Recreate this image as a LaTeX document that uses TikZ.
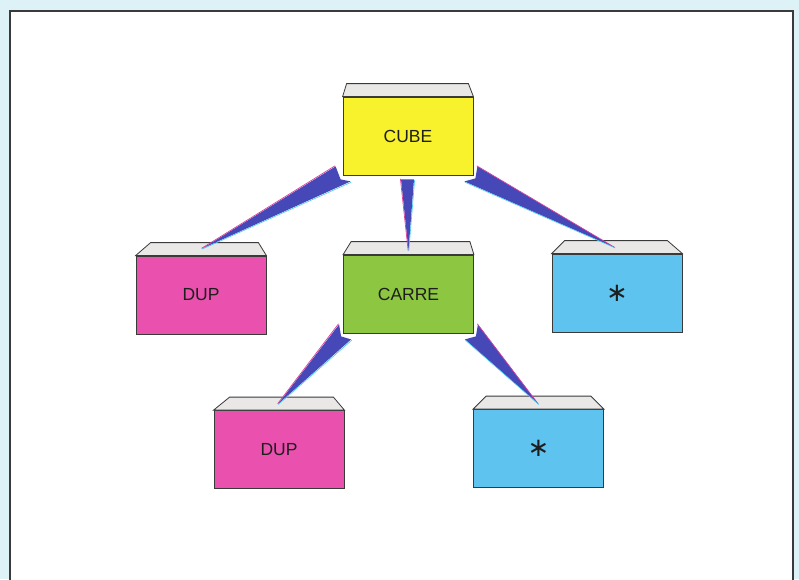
\documentclass[tikz,border=0pt]{standalone}
\usepackage{fontspec}
\setmainfont{Liberation Sans}
\newfontfamily\astfont{DejaVu Sans}
\usetikzlibrary{calc}
\definecolor{bgc}{HTML}{DCF2F7}
\definecolor{edgec}{HTML}{3A3A3A}
\definecolor{lidc}{HTML}{E9E8E6}
\definecolor{yel}{HTML}{F7F22C}
\definecolor{pnk}{HTML}{EA50AE}
\definecolor{grn}{HTML}{8DC641}
\definecolor{sky}{HTML}{5EC3EF}
\definecolor{wedgec}{HTML}{4548B6}
\definecolor{magc}{HTML}{D8409E}
\definecolor{cyac}{HTML}{40C8F0}
\definecolor{txtc}{HTML}{1E1E1E}
\newcommand\boxlid[3]{%
  \draw[lid] (#1.north west) -- ($(#1.north west)+(#2,-13)$) -- ($(#1.north east)+(-#3,-13)$) -- (#1.north east) -- cycle;}
\newcommand\conn[4]{%
  \fill[wedgec] (#1) -- (#4) -- (#3) -- (#2) -- cycle;
  \draw[magc, line width=0.7pt] ($(#1)+(-0.6,-0.6)$) -- ($(#4)+(-0.4,-0.3)$);
  \draw[cyac, line width=0.6pt] ($(#3)+(0.6,0.8)$) -- ($(#4)+(0.3,0.4)$);}
\newcommand\bigast{{\astfont\fontsize{26}{26}\selectfont ∗}}
\begin{document}
\begin{tikzpicture}[x=1pt,y=-1pt,
  box/.style={draw=edgec, line width=0.8pt, minimum width=130pt, minimum height=78pt, inner sep=0pt, text=txtc, font=\fontsize{17.5}{20}\selectfont},
  lid/.style={draw=edgec, line width=0.8pt, fill=lidc}]
\useasboundingbox (0,0) rectangle (799,579);
\fill[bgc] (0,0) rectangle (799,579);
\draw[edgec, line width=1.3pt, fill=white] (10,11) rectangle (793,590);

\node[box, fill=yel] (cube) at (408,136) {CUBE};
\node[box, fill=pnk] (dupL) at (201,295) {DUP};
\node[box, fill=grn] (carre) at (408.5,294) {CARRE};
\node[box, fill=sky] (starR) at (617,293) {\bigast};
\node[box, fill=pnk] (dupLow) at (279,449.5) {DUP};
\node[box, fill=sky] (starLow) at (538.5,448.5) {\bigast};

\boxlid{cube}{4}{5}
\boxlid{dupL}{15}{8}
\boxlid{carre}{8}{4}
\boxlid{starR}{13}{15}
\boxlid{dupLow}{16}{11}
\boxlid{starLow}{13}{13}

\coordinate (a1) at ($(cube.south west)+(-7,-9)$);
\coordinate (n1) at ($(cube.south west)+(-2,4)$);
\coordinate (b1) at ($(cube.south west)+(8,6)$);
\coordinate (t1) at ($(dupL.north)+(1,-7)$);
\conn{a1}{n1}{b1}{t1}

\coordinate (a2) at ($(cube.south)+(-7,4)$);
\coordinate (n2) at ($(cube.south)+(0,4)$);
\coordinate (b2) at ($(cube.south)+(6,4)$);
\coordinate (t2) at ($(carre.north)+(0,-4)$);
\conn{a2}{n2}{b2}{t2}

\coordinate (a3) at ($(cube.south east)+(4,-9)$);
\coordinate (n3) at ($(cube.south east)+(2,3)$);
\coordinate (b3) at ($(cube.south east)+(-9,6)$);
\coordinate (t3) at ($(starR.north)+(-2,-6)$);
\conn{a3}{n3}{b3}{t3}

\coordinate (a4) at ($(carre.south west)+(-4,-9)$);
\coordinate (n4) at ($(carre.south west)+(-2,3)$);
\coordinate (b4) at ($(carre.south west)+(8,6)$);
\coordinate (t4) at ($(dupLow.north)+(-1,-6)$);
\conn{a4}{n4}{b4}{t4}

\coordinate (a5) at ($(carre.south east)+(4,-9)$);
\coordinate (n5) at ($(carre.south east)+(2,3)$);
\coordinate (b5) at ($(carre.south east)+(-9,6)$);
\coordinate (t5) at ($(starLow.north)+(0,-5)$);
\conn{a5}{n5}{b5}{t5}
\end{tikzpicture}
\end{document}
